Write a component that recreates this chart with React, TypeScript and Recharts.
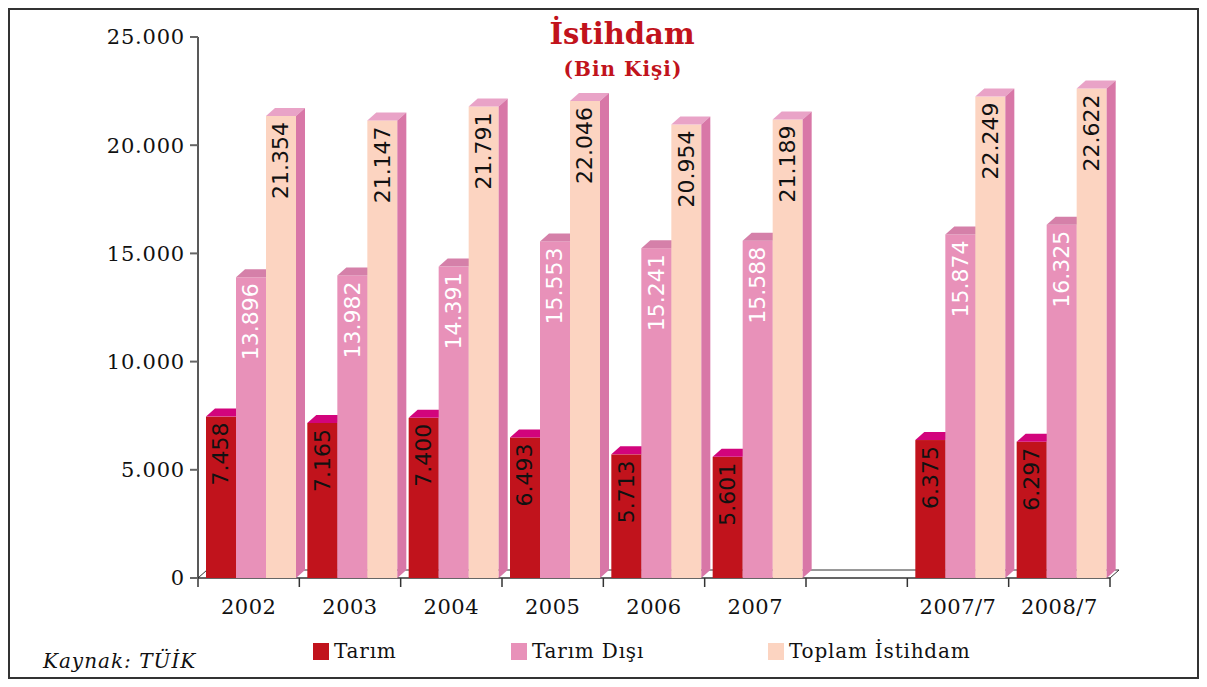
import React from 'react';
import { BarChart, Bar, XAxis, YAxis, LabelList, Customized } from 'recharts';

const categories = ['2002', '2003', '2004', '2005', '2006', '2007', '', '2007/7', '2008/7'];
const tarim = [7458, 7165, 7400, 6493, 5713, 5601, null, 6375, 6297];
const tarimDisi = [13896, 13982, 14391, 15553, 15241, 15588, null, 15874, 16325];
const toplam = [21354, 21147, 21791, 22046, 20954, 21189, null, 22249, 22622];
const yTicks = [0, 5000, 10000, 15000, 20000, 25000];

const data = categories.map((name, i) => ({
  name,
  tarim: tarim[i],
  tarimDisi: tarimDisi[i],
  toplam: toplam[i],
}));

const W = 1207;
const H = 687;
const PLOT_LEFT = 198;
const PLOT_TOP = 37;
const PLOT_RIGHT = 97;
const PLOT_BOTTOM = 109;
const DX = 9;
const DY = 8;

const fmt = (v: number) => String(v).replace(/\B(?=(\d{3})+(?!\d))/g, '.');

const make3D = (front: string, top: string, side: string) => (props: any) => {
  const { x, y, width, height } = props;
  if (height == null || height <= 0 || props.value == null) return null;
  const bx = x + 2;
  return (
    <g>
      <rect x={bx} y={y} width={width} height={height} fill={front} />
      <polygon
        points={`${bx},${y} ${bx + DX},${y - DY} ${bx + width + DX},${y - DY} ${bx + width},${y}`}
        fill={top}
      />
      <polygon
        points={`${bx + width},${y} ${bx + width + DX},${y - DY} ${bx + width + DX},${y + height - DY} ${bx + width},${y + height}`}
        fill={side}
      />
    </g>
  );
};

const makeLabel = (color: string) => (props: any) => {
  const { x, y, width, value } = props;
  if (value == null) return null;
  const cx = x + 2 + width / 2;
  const ty = y + 6;
  return (
    <text
      x={cx}
      y={ty}
      transform={`rotate(-90, ${cx}, ${ty})`}
      textAnchor="end"
      dominantBaseline="central"
      fill={color}
      fontFamily="'DejaVu Sans', sans-serif"
      fontSize={22}
    >
      {fmt(value)}
    </text>
  );
};

const Floor = () => {
  const x0 = PLOT_LEFT;
  const x1 = W - PLOT_RIGHT;
  const y0 = H - PLOT_BOTTOM;
  return (
    <g>
      <line x1={x0 + DX} y1={y0 - DY} x2={x1 + DX} y2={y0 - DY} stroke="#333" strokeWidth={1} />
      <line x1={x1} y1={y0} x2={x1 + DX} y2={y0 - DY} stroke="#333" strokeWidth={1} />
      <line x1={x0} y1={y0} x2={x0 + DX} y2={y0 - DY} stroke="#333" strokeWidth={1} />
    </g>
  );
};

const FloorFront = () => {
  const x0 = PLOT_LEFT;
  const x1 = W - PLOT_RIGHT;
  const y0 = H - PLOT_BOTTOM;
  const step = (x1 - x0) / categories.length;
  return (
    <g>
      <line x1={x0} y1={y0} x2={x1} y2={y0} stroke="#333" strokeWidth={1.5} />
      {categories.map((_, i) => (
        <line key={i} x1={x0 + step * (i + 1)} y1={y0} x2={x0 + step * (i + 1)} y2={y0 + 9} stroke="#333" strokeWidth={1.5} />
      ))}
      <line x1={x0} y1={y0} x2={x0} y2={y0 + 9} stroke="#333" strokeWidth={1.5} />
      <rect x={9} y={9} width={1189} height={669} fill="none" stroke="#333" strokeWidth={2} />
    </g>
  );
};

const legendItems = [
  { label: 'Tarım', color: '#c1131c', left: 313 },
  { label: 'Tarım Dışı', color: '#e891b9', left: 511 },
  { label: 'Toplam İstihdam', color: '#fcd4c1', left: 768 },
];

export default function App() {
  return (
    <div style={{ position: 'relative', width: W, height: H, margin: -8 }}>
      <div style={{ position: 'absolute', left: 0, top: 0 }}>
        <BarChart
          width={W}
          height={H}
          data={data}
          margin={{ top: PLOT_TOP, right: PLOT_RIGHT, bottom: PLOT_BOTTOM - 40, left: 0 }}
          barCategoryGap={6}
          barGap={0}
        >
          <Customized component={Floor} />
          <XAxis
            dataKey="name"
            height={40}
            axisLine={false}
            tickLine={false}
            interval={0}
            tick={{ fill: '#111', fontSize: 21, fontFamily: "'DejaVu Serif', serif", letterSpacing: 0.5 }}
            dy={13}
          />
          <YAxis
            width={PLOT_LEFT}
            domain={[0, 25000]}
            ticks={yTicks}
            tickFormatter={fmt}
            axisLine={{ stroke: '#222', strokeWidth: 1.5 }}
            tickLine={{ stroke: '#666', strokeWidth: 2 }}
            tickSize={8}
            dx={-3}
            tick={{ fill: '#111', fontSize: 21, fontFamily: "'DejaVu Serif', serif", letterSpacing: 0.8 }}
          />
          <Bar dataKey="tarim" isAnimationActive={false} shape={make3D('#c1131c', '#d2047c', '#a00e18')}>
            <LabelList dataKey="tarim" content={makeLabel('#111')} />
          </Bar>
          <Bar dataKey="tarimDisi" isAnimationActive={false} shape={make3D('#e891b9', '#d580a9', '#d877a7')}>
            <LabelList dataKey="tarimDisi" content={makeLabel('#fff')} />
          </Bar>
          <Bar dataKey="toplam" isAnimationActive={false} shape={make3D('#fcd4c1', '#e9a3c7', '#d877a7')}>
            <LabelList dataKey="toplam" content={makeLabel('#111')} />
          </Bar>
          <Customized component={FloorFront} />
        </BarChart>
      </div>
      <div
        style={{
          position: 'absolute',
          left: 0,
          width: 1244,
          top: 17,
          textAlign: 'center',
          color: '#c1131c',
          fontFamily: "'DejaVu Serif', serif",
          fontWeight: 'bold',
          fontSize: 29,
          lineHeight: '34px',
        }}
      >
        İstihdam
      </div>
      <div
        style={{
          position: 'absolute',
          left: 0,
          width: 1246,
          top: 57,
          textAlign: 'center',
          color: '#c1131c',
          fontFamily: "'DejaVu Serif', serif",
          fontWeight: 'bold',
          fontSize: 20,
          letterSpacing: 1,
          lineHeight: '24px',
        }}
      >
        (Bin Kişi)
      </div>
      {legendItems.map((it) => (
        <div
          key={it.label}
          style={{
            position: 'absolute',
            left: it.left,
            top: 639,
            display: 'flex',
            alignItems: 'center',
            fontFamily: "'DejaVu Serif', serif",
            fontSize: 20,
            letterSpacing: 0.8,
            color: '#111',
          }}
        >
          <span style={{ display: 'inline-block', width: 16, height: 17, background: it.color, marginRight: 5 }} />
          {it.label}
        </div>
      ))}
      <div
        style={{
          position: 'absolute',
          left: 43,
          top: 649,
          fontFamily: "'DejaVu Serif', serif",
          fontStyle: 'italic',
          fontSize: 20,
          letterSpacing: 1,
          color: '#111',
        }}
      >
        Kaynak: TÜİK
      </div>
    </div>
  );
}
